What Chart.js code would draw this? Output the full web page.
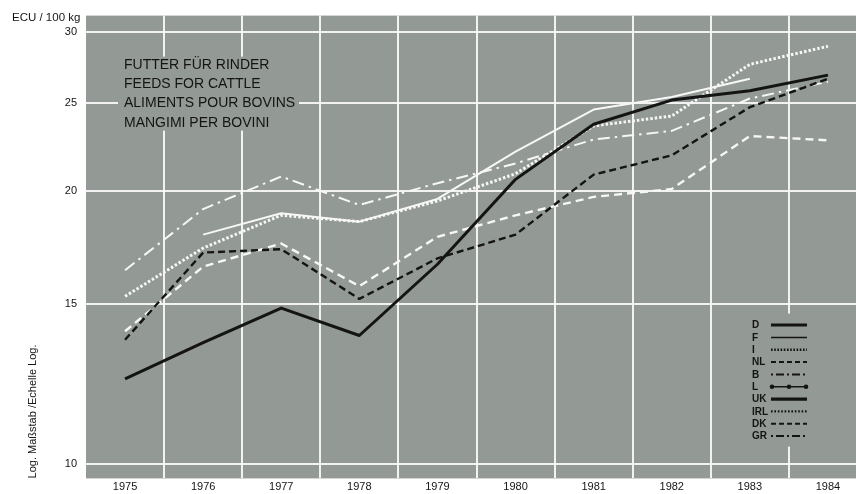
<!DOCTYPE html>
<html lang="de">
<head>
<meta charset="utf-8">
<title>Futter für Rinder</title>
<script src="https://cdn.jsdelivr.net/npm/chart.js@4.4.1/dist/chart.umd.min.js"></script>
<style>
  html, body { margin: 0; padding: 0; background: #fff; overflow: hidden; }
  #wrap { position: relative; width: 880px; height: 494px; }
</style>
</head>
<body>
<div id="wrap"><canvas id="feedChart" width="880" height="494"></canvas></div>
<script>
// ECU / 100 kg, log scale
const years = ['1975', '1976', '1977', '1978', '1979', '1980', '1981', '1982', '1983', '1984'];
const yTicks = [10, 15, 20, 25, 30];

const priceD  = [12.4, 13.6, 14.85, 13.85, 16.6, 20.6, 23.7, 25.2, 25.8, 26.85];
const priceF  = [null, 17.9, 18.9, 18.5, 19.6, 22.1, 24.6, 25.4, 26.6, null];
const priceI  = [15.3, 17.3, 18.8, 18.5, 19.5, 20.9, 23.6, 24.2, 27.6, 28.9];
const priceNL = [14.0, 16.5, 17.5, 15.7, 17.8, 18.8, 19.7, 20.1, 23.0, 22.75];
const priceB  = [16.35, 19.1, 20.75, 19.3, 20.4, 21.45, 22.8, 23.3, 25.3, 26.4];
const priceDK = [13.7, 17.1, 17.25, 15.2, 16.85, 17.9, 20.85, 21.9, 24.75, 26.6];

const legendCodes = ['D', 'F', 'I', 'NL', 'B', 'L', 'UK', 'IRL', 'DK', 'GR'];
const titleLines = ['FUTTER FÜR RINDER', 'FEEDS FOR CATTLE', 'ALIMENTS POUR BOVINS', 'MANGIMI PER BOVINI'];

const PANEL = '#939994';
const GRID = 'rgba(248,250,248,0.92)';
const INK = '#141414';
const WHITE = '#f6f7f6';
const FONT = '"Liberation Sans", Arial, Helvetica, sans-serif';

// key samples are all printed in black
const keyStyles = {
  D:   { width: 3,   dash: [] },
  F:   { width: 1.6, dash: [] },
  I:   { width: 2.4, dash: [1.6, 1.6] },
  NL:  { width: 2,   dash: [5, 3] },
  B:   { width: 2,   dash: [2, 3, 8, 3] },
  L:   { width: 1.6, dash: [], dots: true },
  UK:  { width: 3.4, dash: [] },
  IRL: { width: 2.4, dash: [1.6, 1.8] },
  DK:  { width: 2,   dash: [5, 3] },
  GR:  { width: 2,   dash: [2, 3, 8, 3] }
};

function series(label, data, color, width, dash) {
  return {
    label: label,
    data: data,
    borderColor: color,
    borderWidth: width,
    borderDash: dash,
    borderCapStyle: 'butt',
    borderJoinStyle: 'round',
    fill: false,
    spanGaps: false
  };
}

// grey panel, title block, key and unit text
const panelPlugin = {
  id: 'panel',
  beforeDraw(chart) {
    const { ctx, chartArea: a } = chart;
    ctx.save();
    ctx.fillStyle = PANEL;
    ctx.fillRect(a.left, a.top, a.right - a.left, a.bottom - a.top);
    ctx.restore();
  },
  beforeDatasetsDraw(chart) {
    const { ctx, chartArea: a } = chart;
    ctx.save();
    // blank patches behind title and key so the grid does not run through them
    ctx.fillStyle = PANEL;
    ctx.fillRect(a.left + 32, a.top + 41, 181, 74);
    ctx.fillRect(a.left + 658, a.top + 298, a.right - a.left - 658, 133);

    ctx.fillStyle = INK;
    ctx.font = '14px ' + FONT;
    ctx.textBaseline = 'alphabetic';
    ctx.textAlign = 'left';
    titleLines.forEach((line, i) => {
      ctx.fillText(line, a.left + 38, a.top + 53 + i * 19.4);
    });

    // key
    const kx = a.left + 666;
    const sx0 = a.left + 685, sx1 = a.left + 721;
    ctx.font = 'bold 10px ' + FONT;
    ctx.textBaseline = 'middle';
    legendCodes.forEach((code, i) => {
      const y = a.top + 309.5 + i * 12.33;
      const st = keyStyles[code];
      ctx.fillStyle = INK;
      ctx.fillText(code, kx, y + 0.5);
      ctx.strokeStyle = INK;
      ctx.lineWidth = st.width;
      ctx.setLineDash(st.dash);
      ctx.beginPath();
      ctx.moveTo(sx0, y);
      ctx.lineTo(sx1, y);
      ctx.stroke();
      if (st.dots) {
        ctx.setLineDash([]);
        [sx0 + 1, (sx0 + sx1) / 2, sx1 - 1].forEach(px => {
          ctx.beginPath();
          ctx.arc(px, y, 2.3, 0, Math.PI * 2);
          ctx.fill();
        });
      }
    });
    ctx.restore();
  },
  afterDraw(chart) {
    const { ctx } = chart;
    ctx.save();
    ctx.fillStyle = INK;
    ctx.font = '11.5px ' + FONT;
    ctx.textAlign = 'left';
    ctx.textBaseline = 'alphabetic';
    ctx.fillText('ECU / 100 kg', 12, 21);
    ctx.restore();
  }
};

document.addEventListener('DOMContentLoaded', () => {
  const ctx = document.getElementById('feedChart');

  new Chart(ctx, {
    type: 'line',
    data: {
      labels: years,
      datasets: [
        series('D', priceD, INK, 3, []),
        series('DK', priceDK, INK, 2.4, [7, 4]),
        series('F', priceF, WHITE, 2, []),
        series('I', priceI, WHITE, 3, [2.5, 2]),
        series('NL', priceNL, WHITE, 2.4, [8, 5]),
        series('B', priceB, WHITE, 2, [12, 5, 2.5, 5])
      ]
    },
    options: {
      responsive: false,
      animation: false,
      events: [],
      layout: { padding: { top: 13, right: 13, bottom: 0, left: 0 } },
      elements: {
        point: { radius: 0, hoverRadius: 0 },
        line: { tension: 0 }
      },
      plugins: {
        legend: { display: false },
        tooltip: { enabled: false }
      },
      scales: {
        x: {
          type: 'category',
          offset: true,
          grid: {
            offset: true,
            drawTicks: false,
            lineWidth: 2,
            color: (c) => (c.index === 0 ? 'rgba(0,0,0,0)' : GRID)
          },
          border: { display: false },
          ticks: {
            color: INK,
            font: { family: FONT, size: 11 },
            padding: 2,
            maxRotation: 0,
            autoSkip: false
          },
          afterFit: (scale) => { scale.height = 15; }
        },
        y: {
          type: 'logarithmic',
          min: 9.63,
          max: 31.24,
          bounds: 'data',
          afterBuildTicks: (scale) => {
            scale.ticks = yTicks.map(v => ({ value: v }));
          },
          grid: { drawTicks: false, lineWidth: 2, color: GRID },
          border: { display: false },
          ticks: {
            color: INK,
            font: { family: FONT, size: 11 },
            padding: 9,
            callback: (v) => String(v)
          },
          title: {
            display: true,
            text: 'Log. Maßstab /Echelle Log.',
            align: 'start',
            color: INK,
            font: { family: FONT, size: 11 },
            padding: { top: 26, bottom: 0 }
          },
          afterFit: (scale) => { scale.width = 86; }
        }
      }
    },
    plugins: [panelPlugin]
  });
});
</script>
</body>
</html>
